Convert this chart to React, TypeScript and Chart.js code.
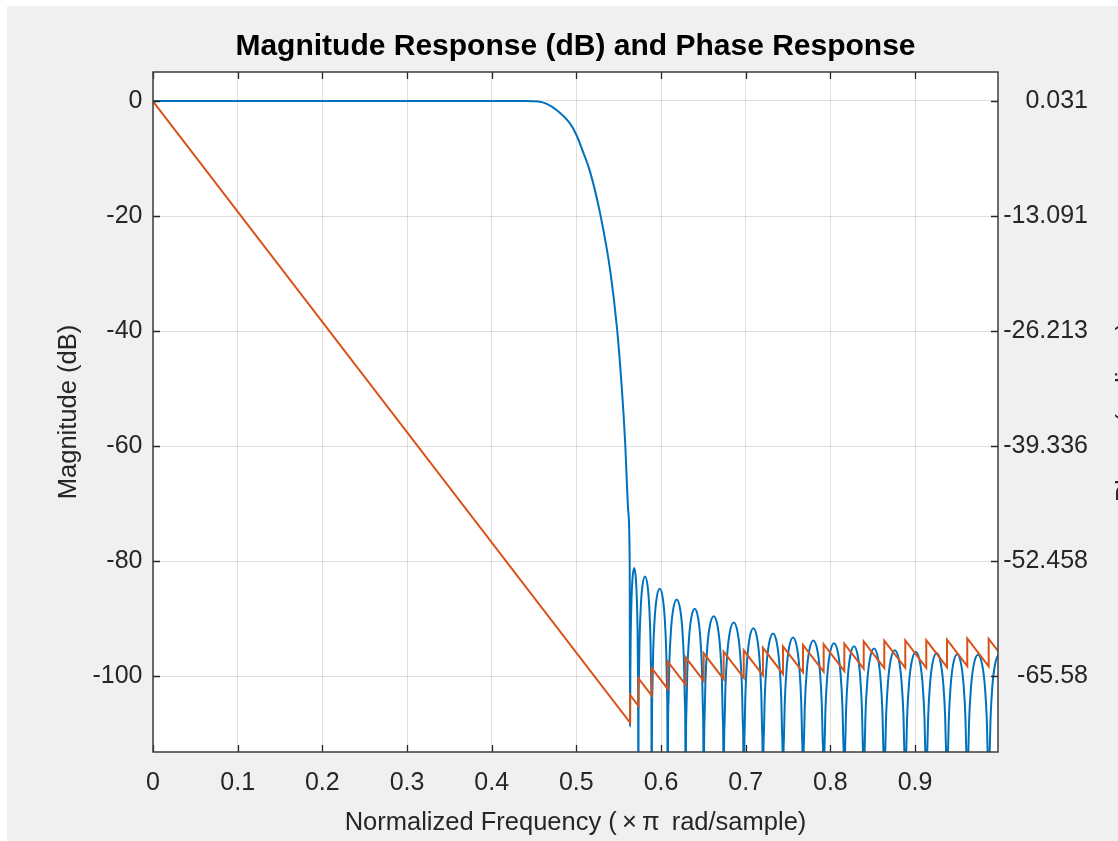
import { useEffect, useRef } from "react";
import { Chart, registerables } from "chart.js";

Chart.register(...registerables);

// ---------- axis ticks ----------
const freqTicks = [0, 0.1, 0.2, 0.3, 0.4, 0.5, 0.6, 0.7, 0.8, 0.9];
const freqTickLabels = ["0", "0.1", "0.2", "0.3", "0.4", "0.5", "0.6", "0.7", "0.8", "0.9"];
const magTicks = [-100, -80, -60, -40, -20, 0];
const magTickLabels = ["-100", "-80", "-60", "-40", "-20", "0"];
const phaseTicks = [-65.58, -52.458, -39.336, -26.213, -13.091, 0.031];
const phaseTickLabels = ["-65.58", "-52.458", "-39.336", "-26.213", "-13.091", "0.031"];

const FREQ_MAX = 0.998;
const MAG_MIN = -113.2;
const MAG_MAX = 5.04;

// ---------- magnitude response (dB) ----------
// passband and transition band
const transitionFreq = [0, 0.44, 0.455, 0.465, 0.477, 0.4925, 0.5004, 0.508, 0.516, 0.528, 0.54, 0.548, 0.5535, 0.5575, 0.5614, 0.563];
const transitionMag = [0, 0, -0.1, -0.5, -1.6, -3.9, -6.0, -8.9, -12.2, -19.5, -29.5, -39.5, -49.5, -59, -71.5, -80.3];

// stopband nulls (normalized frequency); first one is a shallow dip
const stopbandNulls = [
  0.5634, 0.5732, 0.589, 0.6079, 0.6291, 0.6504, 0.674, 0.6977, 0.7204, 0.7441, 0.7677,
  0.7921, 0.8165, 0.8394, 0.8637, 0.8885, 0.9133, 0.9378, 0.9617, 0.987, 1.011,
];
const firstDipMag = -108.8;
const nullMag = -200;
// peak level of each stopband lobe (dB)
const lobePeaks = [
  -81.2, -82.7, -84.8, -86.7, -88.3, -89.6, -90.7, -91.7, -92.6, -93.3,
  -93.8, -94.3, -94.8, -95.2, -95.5, -95.8, -96.0, -96.2, -96.3, -96.4,
];
// shape of a lobe: position across the lobe and level below its peak (dB)
const lobeShapePos = [0.015, 0.04, 0.09, 0.18, 0.3, 0.5, 0.7, 0.82, 0.91, 0.96, 0.985];
const lobeShapeDrop = [-26.5, -18, -11.1, -5.4, -1.8, 0, -1.8, -5.4, -11.1, -18, -26.5];

// ---------- phase response (radians) ----------
const phaseStartFreq = 0;
const phaseStart = 0;
const phaseJumpFreq = [
  0.5634, 0.5732, 0.589, 0.6079, 0.6291, 0.6504, 0.674, 0.6977, 0.7204, 0.7441,
  0.7677, 0.7921, 0.8165, 0.8394, 0.8637, 0.8885, 0.9133, 0.9378, 0.9617, 0.987,
];
const phaseBeforeJump = [
  -70.876, -68.968, -67.813, -67.049, -66.575, -66.112, -65.939, -65.78, -65.493, -65.334,
  -65.161, -65.088, -65.017, -64.756, -64.671, -64.649, -64.628, -64.568, -64.433, -64.475,
];
const phaseAfterJump = [
  -67.734, -65.826, -64.671, -63.908, -63.433, -62.971, -62.798, -62.638, -62.352, -62.192,
  -62.019, -61.946, -61.875, -61.614, -61.53, -61.507, -61.486, -61.427, -61.291, -61.333,
];
const phaseEndFreq = 0.998;
const phaseEnd = -62.716;

// ---------- layout (page pixels) ----------
const OX = 7;
const OY = 6;
const CW = 1118 - OX;
const CH = 841 - OY;
const AREA = { left: 153, top: 72, right: 998, bottom: 752 };
const RIGHT_LABEL_END = 1088;
const FONT = "'Liberation Sans', Arial, Helvetica, sans-serif";
const TEXT = "#262626";

function buildMagnitude() {
  const pts: { x: number; y: number }[] = [];
  transitionFreq.forEach((f, i) => pts.push({ x: f, y: transitionMag[i] }));
  for (let i = 0; i < lobePeaks.length; i++) {
    const a = stopbandNulls[i];
    const b = stopbandNulls[i + 1];
    pts.push({ x: a, y: i === 0 ? firstDipMag : nullMag });
    lobeShapePos.forEach((t, j) => pts.push({ x: a + (b - a) * t, y: lobePeaks[i] + lobeShapeDrop[j] }));
  }
  pts.push({ x: stopbandNulls[stopbandNulls.length - 1], y: nullMag });
  return pts;
}

function buildPhase() {
  const pts: { x: number; y: number }[] = [{ x: phaseStartFreq, y: phaseStart }];
  phaseJumpFreq.forEach((f, i) => {
    pts.push({ x: f, y: phaseBeforeJump[i] });
    pts.push({ x: f, y: phaseAfterJump[i] });
  });
  pts.push({ x: phaseEndFreq, y: phaseEnd });
  return pts;
}

const decorPlugin = {
  id: "decor",
  beforeDraw(chart: any) {
    const { ctx, width, height, chartArea: a } = chart;
    ctx.save();
    ctx.fillStyle = "#f0f0f0";
    ctx.fillRect(0, 0, width, height);
    ctx.fillStyle = "#ffffff";
    ctx.fillRect(a.left, a.top, a.right - a.left, a.bottom - a.top);
    ctx.restore();
  },
  afterDraw(chart: any) {
    const { ctx, chartArea: a, scales } = chart;
    ctx.save();
    const tl = 7;
    ctx.strokeStyle = TEXT;
    ctx.lineWidth = 1.3;
    ctx.beginPath();
    for (const t of scales.x.ticks) {
      const px = Math.round(scales.x.getPixelForValue(t.value)) + 0.5;
      ctx.moveTo(px, a.bottom);
      ctx.lineTo(px, a.bottom - tl);
      ctx.moveTo(px, a.top);
      ctx.lineTo(px, a.top + tl);
    }
    for (const t of scales.y.ticks) {
      const py = Math.round(scales.y.getPixelForValue(t.value)) + 0.5;
      ctx.moveTo(a.left, py);
      ctx.lineTo(a.left + tl, py);
    }
    for (const t of scales.y2.ticks) {
      const py = Math.round(scales.y2.getPixelForValue(t.value)) + 0.5;
      ctx.moveTo(a.right, py);
      ctx.lineTo(a.right - tl, py);
    }
    ctx.stroke();
    ctx.strokeStyle = "#3c3c3c";
    ctx.lineWidth = 1.5;
    ctx.strokeRect(a.left, a.top, a.right - a.left, a.bottom - a.top);

    const cx = (a.left + a.right) / 2;
    const cy = (a.top + a.bottom) / 2;
    // title
    ctx.fillStyle = "#000000";
    ctx.font = `bold 30px ${FONT}`;
    ctx.textAlign = "center";
    ctx.textBaseline = "alphabetic";
    ctx.fillText("Magnitude Response (dB) and Phase Response", cx, 55 - OY);
    // x label
    ctx.fillStyle = TEXT;
    ctx.font = `25.5px ${FONT}`;
    ctx.fillText("Normalized Frequency (\u2009\u00D7\u2009\u03C0\u2009 rad/sample)", cx, 830 - OY);
    // left y label
    ctx.save();
    ctx.translate(57.5 - OX + 0.716 * 25.5, cy);
    ctx.rotate(-Math.PI / 2);
    ctx.fillText("Magnitude (dB)", 0, 0);
    ctx.restore();
    // right y label (mostly outside the window)
    ctx.save();
    ctx.translate(1116 - OX + 0.716 * 25.5, cy);
    ctx.rotate(-Math.PI / 2);
    ctx.fillText("Phase (radians)", 0, 0);
    ctx.restore();
    ctx.restore();
  },
};

export default function App() {
  const ref = useRef<HTMLCanvasElement>(null);
  useEffect(() => {
    const canvas = ref.current!;
    const ratio = (phaseTicks[phaseTicks.length - 1] - phaseTicks[0]) / (magTicks[magTicks.length - 1] - magTicks[0]);
    const phaseAt0 = phaseTicks[phaseTicks.length - 1];
    const phaseMin = phaseAt0 + MAG_MIN * ratio;
    const phaseMax = phaseAt0 + MAG_MAX * ratio;
    const tickFont = { family: FONT, size: 25 };
    const chart = new Chart(canvas, {
      type: "line",
      data: {
        datasets: [
          {
            label: "Phase",
            data: buildPhase(),
            yAxisID: "y2",
            borderColor: "#D95319",
            borderWidth: 2,
            pointRadius: 0,
            tension: 0,
            fill: false,
          },
          {
            label: "Magnitude",
            data: buildMagnitude(),
            yAxisID: "y",
            borderColor: "#0072BD",
            borderWidth: 2,
            pointRadius: 0,
            cubicInterpolationMode: "monotone",
            fill: false,
          },
        ],
      },
      options: {
        animation: false,
        responsive: false,
        layout: { padding: { top: AREA.top - OY, left: 0, right: CW - (RIGHT_LABEL_END - OX), bottom: 0 } },
        plugins: { legend: { display: false }, title: { display: false }, tooltip: { enabled: false } },
        events: [],
        scales: {
          x: {
            type: "linear",
            min: 0,
            max: FREQ_MAX,
            afterBuildTicks: (s: any) => {
              s.ticks = freqTicks.map((v) => ({ value: v }));
            },
            afterFit: (s: any) => {
              s.height = CH - (AREA.bottom - OY);
            },
            grid: { color: "rgba(38,38,38,0.15)", lineWidth: 1, drawTicks: false },
            border: { display: false },
            ticks: {
              padding: 16,
              font: tickFont,
              color: TEXT,
              autoSkip: false,
              maxRotation: 0,
              callback: (_v: any, i: number) => freqTickLabels[i],
            },
          },
          y: {
            type: "linear",
            position: "left",
            min: MAG_MIN,
            max: MAG_MAX,
            afterBuildTicks: (s: any) => {
              s.ticks = magTicks.map((v) => ({ value: v }));
            },
            afterFit: (s: any) => {
              s.width = AREA.left - OX;
            },
            grid: { color: "rgba(38,38,38,0.15)", lineWidth: 1, drawTicks: false },
            border: { display: false },
            ticks: {
              padding: 10.5,
              font: tickFont,
              color: TEXT,
              autoSkip: false,
              callback: (_v: any, i: number) => magTickLabels[i],
            },
          },
          y2: {
            type: "linear",
            position: "right",
            min: phaseMin,
            max: phaseMax,
            afterBuildTicks: (s: any) => {
              s.ticks = phaseTicks.map((v) => ({ value: v }));
            },
            afterFit: (s: any) => {
              s.width = RIGHT_LABEL_END - AREA.right;
            },
            grid: { display: false, drawTicks: false },
            border: { display: false },
            ticks: {
              padding: 0,
              crossAlign: "far",
              font: tickFont,
              color: TEXT,
              autoSkip: false,
              callback: (_v: any, i: number) => phaseTickLabels[i],
            },
          },
        },
      },
      plugins: [decorPlugin],
    } as any);
    return () => chart.destroy();
  }, []);
  return (
    <div style={{ position: "fixed", left: OX, top: OY, width: CW, height: CH }}>
      <canvas ref={ref} width={CW} height={CH} style={{ display: "block", width: CW, height: CH }} />
    </div>
  );
}
